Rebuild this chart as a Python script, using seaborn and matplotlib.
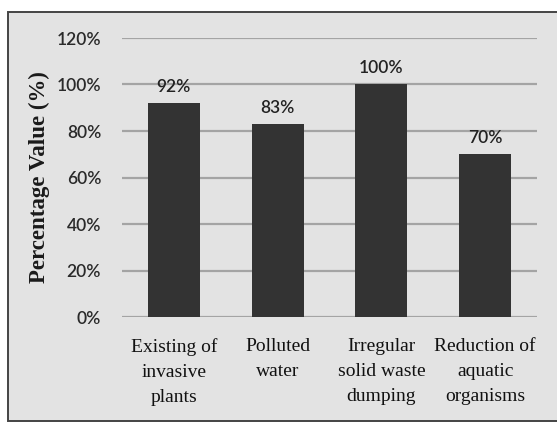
import matplotlib
matplotlib.use("Agg")
import matplotlib.pyplot as plt
import seaborn as sns
import pandas as pd
from matplotlib.patches import Rectangle

categories = ["Existing of\ninvasive\nplants", "Polluted\nwater", "Irregular\nsolid waste\ndumping", "Reduction of\naquatic\norganisms"]
values = [92, 83, 100, 70]
yticks = [0, 20, 40, 60, 80, 100, 120]
ytick_labels = ["0%", "20%", "40%", "60%", "80%", "100%", "120%"]

df = pd.DataFrame({"category": categories, "value": values})

sns.set_theme(style="white")
bg = "#e3e3e3"
fig = plt.figure(figsize=(5.57, 4.23), dpi=100)
fig.patch.set_facecolor("white")
fig.patches.append(Rectangle((8/557, 1 - 421/423), 1.0, (421 - 12)/423, transform=fig.transFigure,
                             facecolor=bg, edgecolor="#444444", linewidth=1.4, zorder=-10))
ax = fig.add_axes([122/557, 1 - 317/423, (537 - 122)/557, (317 - 38)/423])
ax.set_facecolor(bg)
ax.patch.set_alpha(0)

sns.barplot(data=df, x="category", y="value", color="#333333", width=0.5, ax=ax,
            saturation=1, edgecolor="none", zorder=3)
ax.set_ylim(0, 120)
ax.set_xlim(-0.5, 3.5)
ax.set_yticks(yticks)
ax.set_yticklabels(ytick_labels, family="Lato", fontweight="semibold", fontsize=12.5, color="#2a2a2a")
ax.yaxis.grid(True, color="#a4a4a4", linewidth=1.6, zorder=0)
ax.set_axisbelow(True)
for s in ax.spines.values():
    s.set_visible(False)
ax.tick_params(axis="y", length=0, pad=15)
ax.tick_params(axis="x", length=0, pad=15)
ax.set_xticks(range(len(categories)))
ax.set_xticklabels(categories, family="Liberation Serif", fontsize=14, color="#111111", linespacing=1.63)
ax.set_xlabel("")
ax.set_ylabel("Percentage Value (%)", family="Liberation Serif", fontweight="bold", fontsize=16.5,
              color="#1a1a1a", labelpad=5)
for i, v in enumerate(values):
    ax.text(i, v + 3.5, f"{v}%", ha="center", va="bottom", family="Lato", fontweight="semibold",
            fontsize=12.5, color="#222222")

fig.savefig("out.png", dpi=100, facecolor="white")
